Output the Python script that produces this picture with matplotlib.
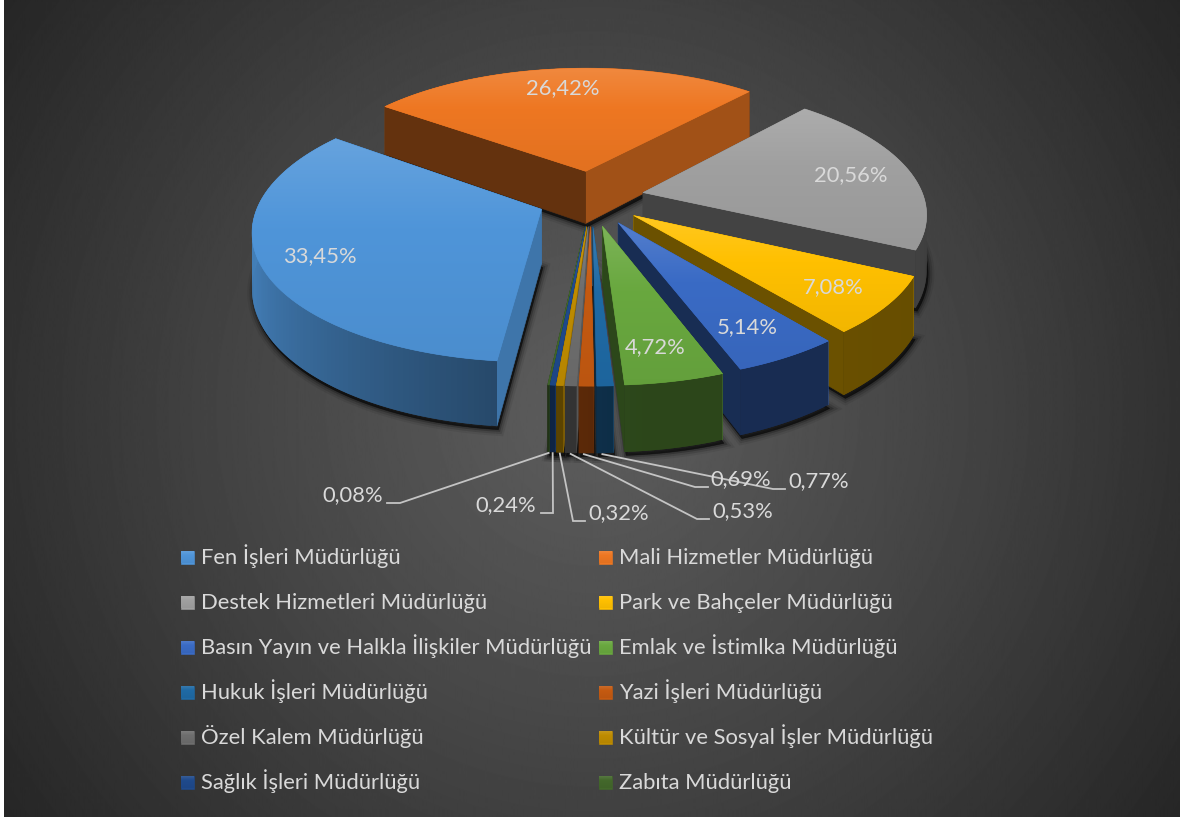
import numpy as np
import matplotlib
matplotlib.use("Agg")
import matplotlib.pyplot as plt
from matplotlib.patches import Polygon
from matplotlib.colors import to_rgb

departments = ["Fen İşleri Müdürlüğü", "Mali Hizmetler Müdürlüğü", "Destek Hizmetleri Müdürlüğü",
               "Park ve Bahçeler Müdürlüğü", "Basın Yayın ve Halkla İlişkiler Müdürlüğü",
               "Emlak ve İstimlka Müdürlüğü", "Hukuk İşleri Müdürlüğü", "Yazi İşleri Müdürlüğü",
               "Özel Kalem Müdürlüğü", "Kültür ve Sosyal İşler Müdürlüğü",
               "Sağlık İşleri Müdürlüğü", "Zabıta Müdürlüğü"]
percents = [33.45, 26.42, 20.56, 7.08, 5.14, 4.72, 0.77, 0.69, 0.53, 0.32, 0.24, 0.08]

colors = ["#4f95d9", "#ee7722", "#a0a0a0", "#ffc000", "#3a6bc5", "#69a83f",
          "#1f6aa5", "#c55a11", "#6e6e6e", "#bf8c00", "#1f4a8c", "#43682b"]

# style / layout (pixel space)
FONT = "Lato"
TXT = "#d9d9d9"
FS = 15.85
W, H = 1180, 818
START = 186.1
EX, EY = 0.19, 0.22          # explosion across / along the view axis
CX, CY, BX, AY, K = 591, 198, 281, 126, 0.15

inside_pos = [(320, 256), (563, 88), (851, 175), (833, 287), (747, 327), (655, 347)]
leader = {6: ((773, 489), (785, 489), (819, 481)),
          7: ((695, 487), (708, 487), (741, 479)),
          8: ((697, 519), (709, 519), (743, 511)),
          9: ((573, 521), (585, 521), (619, 513)),
          10: ((553, 513), (541, 513), (506, 505)),
          11: ((400, 503), (387, 503), (353, 495))}
legend_rows = [557, 602, 647, 692, 737, 782]
legend_cols = [181, 599]

plt.rcParams["font.family"] = [FONT, "DejaVu Sans"]
fig = plt.figure(figsize=(W / 100, H / 100), dpi=100, facecolor="white")
ax = fig.add_axes([0, 0, 1, 1])
ax.axis("off")

# background
yy, xx = np.mgrid[0:H, 0:W]
r = np.hypot(xx - 590, yy - 409) / 718
g = np.interp(r, [0, 0.54, 1], [94, 66, 38]) / 255
ax.imshow(g, extent=(4, W, 817, 0), cmap="gray", vmin=0, vmax=1, aspect="auto", zorder=0)

z = [10]
def nz():
    z[0] += 1
    return z[0]

def proj(u, v, drop=False):
    w = 1 / (1 - K * v)
    x = CX + BX * u * w
    y = CY + AY * v * w
    if drop:
        y = y + 54 / (1 - 0.16 * v)
    return x, y

def shade(c, f):
    return tuple(np.clip(np.array(to_rgb(c)) * f, 0, 1))

def lighten(c, a):
    c = np.array(to_rgb(c))
    return tuple(c + (1 - c) * a)

def grad_poly(pts, col):
    pts = np.asarray(pts)
    zo = nz()
    base = np.array(to_rgb(col))
    ax.add_patch(Polygon(pts, closed=True, fc=base, ec=base, lw=0.4, zorder=zo))
    c1, c2, c3 = np.array(lighten(col, 0.13)), base, np.array(shade(col, 0.95))
    t = np.linspace(0, 1, 64)
    img = np.stack([np.interp(t, [0, 0.4, 1], [c1[k], c2[k], c3[k]]) for k in range(3)], axis=1)[:, None, :]
    im = ax.imshow(img, extent=(pts[:, 0].min(), pts[:, 0].max(), pts[:, 1].max(), pts[:, 1].min()),
                   aspect="auto", zorder=nz(), interpolation="bilinear")
    im.set_clip_path(Polygon(pts, closed=True, transform=ax.transData))

def radial_factor(n):
    return np.interp(n % 360, [90, 131, 180, 270, 360], [0.8, 0.68, 0.42, 0.42, 0.42])

def outer_factor(t):
    return np.interp(t % 360, [100, 175, 188, 255, 300], [0.4, 0.42, 0.5, 0.85, 0.85])

# slice geometry
spans = np.array(percents) / sum(percents) * 360
starts = START + np.concatenate([[0], np.cumsum(spans)[:-1]])
slices = []
for i, (s, sp) in enumerate(zip(starts, spans)):
    b = np.radians(s + sp / 2)
    au, av = EX * np.sin(b), -EY * np.cos(b)
    th = np.radians(np.linspace(s, s + sp, max(3, int(sp) + 2)))
    ou, ov = au + np.sin(th), av - np.cos(th)
    slices.append(dict(i=i, s=s, sp=sp, au=au, av=av, th=th, ou=ou, ov=ov, key=-np.cos(b)))

# shadows first, on the background only
for sl in slices:
    bot = [proj(sl["au"], sl["av"], True)] + [proj(a, c, True) for a, c in zip(sl["ou"], sl["ov"])]
    bot = np.array(bot) + np.array([1.5, 3.5])
    for lw, al in [(9, 0.07), (6, 0.13), (3, 0.22), (0.5, 0.35)]:
        ax.add_patch(Polygon(bot, closed=True, fc=(0, 0, 0, al), ec=(0, 0, 0, al), lw=lw, zorder=5))

for sl in sorted(slices, key=lambda d: d["key"]):
    i = sl["i"]
    col = colors[i]
    au, av, ou, ov, th = sl["au"], sl["av"], sl["ou"], sl["ov"], sl["th"]

    def outer_wall():
        n = len(th)
        for j in range(n - 1):
            f = outer_factor(np.degrees((th[j] + th[j + 1]) / 2))
            e = min(j + 2, n - 1)
            q = [proj(ou[j], ov[j]), proj(ou[e], ov[e]), proj(ou[e], ov[e], True), proj(ou[j], ov[j], True)]
            ax.add_patch(Polygon(q, closed=True, fc=shade(col, f), ec="none", lw=0, zorder=nz()))

    def radial_wall(k, n):
        q = [proj(au, av), proj(ou[k], ov[k]), proj(ou[k], ov[k], True), proj(au, av, True)]
        fc = shade(col, radial_factor(n))
        ax.add_patch(Polygon(q, closed=True, fc=fc, ec=fc, lw=0.4, zorder=nz()))

    mid_v = np.mean(ov)
    if mid_v < 0:
        outer_wall()
    walls = [(ov[0], 0, sl["s"] - 90), (ov[-1], -1, sl["s"] + sl["sp"] + 90)]
    for _, k, n in sorted(walls, key=lambda t: t[0]):
        radial_wall(k, n)
    if mid_v >= 0:
        outer_wall()
    top = [proj(au, av)] + [proj(a, c) for a, c in zip(ou, ov)]
    grad_poly(top, col)

# labels inside the pie
for i, (x, y) in enumerate(inside_pos):
    ax.text(x, y, f"{percents[i]:.2f}%".replace(".", ","), color=TXT, fontsize=FS,
            ha="center", va="center", zorder=nz())

# leader lines and outside labels
for i, (elbow, end, lab) in leader.items():
    sl = slices[i]
    mid = len(sl["th"]) // 2
    sx, sy = proj(sl["ou"][mid], sl["ov"][mid], True)
    ax.plot([sx, elbow[0], end[0]], [sy + 1, elbow[1], end[1]], color="#c4c4c4", lw=1.3,
            zorder=nz(), solid_joinstyle="miter")
    ax.text(lab[0], lab[1], f"{percents[i]:.2f}%".replace(".", ","), color=TXT, fontsize=FS,
            ha="center", va="center", zorder=nz())

# legend
for i, name in enumerate(departments):
    x = legend_cols[i % 2]
    y = legend_rows[i // 2]
    sq = [(x, y - 6.5), (x + 13, y - 6.5), (x + 13, y + 6.5), (x, y + 6.5)]
    grad_poly(sq, colors[i])
    ax.text(x + 20, y + 7, name, color=TXT, fontsize=FS, ha="left", va="baseline", zorder=nz())

ax.set_xlim(0, W)
ax.set_ylim(H, 0)
fig.savefig("out.png", dpi=100, facecolor="white")
